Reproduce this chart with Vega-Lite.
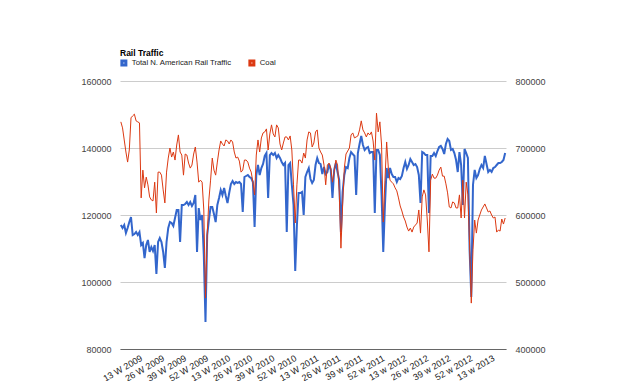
{
 "$schema": "https://vega.github.io/schema/vega-lite/v6.json",
 "autosize": {"type": "none"},
 "width": 386,
 "height": 268,
 "padding": {"left": 120, "top": 81, "right": 118, "bottom": 32},
 "background": "white",
 "title": {"text": "Rail Traffic", "anchor": "start", "frame": "group", "fontSize": 8.5, "font": "Liberation Sans", "fontWeight": "bold", "color": "#000000", "offset": 2},
 "config": {"view": {"stroke": null}, "font": "Liberation Sans"},
 "data": {"values": [
{"week":"1 W 2009","total":585100,"coal":147800},{"week":"2 W 2009","total":580600,"coal":146000},{"week":"3 W 2009","total":585100,"coal":142400},{"week":"4 W 2009","total":573100,"coal":138800},{"week":"5 W 2009","total":580600,"coal":135800},{"week":"6 W 2009","total":589500,"coal":139400},{"week":"7 W 2009","total":597000,"coal":149000},{"week":"8 W 2009","total":570100,"coal":149600},{"week":"9 W 2009","total":571600,"coal":150100},{"week":"10 W 2009","total":574600,"coal":148100},{"week":"11 W 2009","total":570100,"coal":147800},{"week":"12 W 2009","total":574600,"coal":147500},{"week":"13 W 2009","total":555200,"coal":125100},{"week":"14 W 2009","total":558200,"coal":133400},{"week":"15 W 2009","total":535800,"coal":128100},{"week":"16 W 2009","total":555200,"coal":131300},{"week":"17 W 2009","total":562700,"coal":129000},{"week":"18 W 2009","total":544800,"coal":125400},{"week":"19 W 2009","total":552200,"coal":124500},{"week":"20 W 2009","total":546300,"coal":124200},{"week":"21 W 2009","total":555200,"coal":129800},{"week":"22 W 2009","total":511900,"coal":120600},{"week":"23 W 2009","total":559700,"coal":132800},{"week":"24 W 2009","total":565700,"coal":132800},{"week":"25 W 2009","total":559700,"coal":131900},{"week":"26 W 2009","total":544800,"coal":127500},{"week":"27 W 2009","total":520900,"coal":123600},{"week":"28 W 2009","total":559700,"coal":132800},{"week":"29 W 2009","total":580600,"coal":137000},{"week":"30 W 2009","total":589500,"coal":140000},{"week":"31 W 2009","total":588100,"coal":137300},{"week":"32 W 2009","total":583600,"coal":138800},{"week":"33 W 2009","total":595500,"coal":136400},{"week":"34 W 2009","total":607500,"coal":140900},{"week":"35 W 2009","total":607500,"coal":143900},{"week":"36 W 2009","total":559700,"coal":138800},{"week":"37 W 2009","total":614900,"coal":137900},{"week":"38 W 2009","total":614900,"coal":131900},{"week":"39 W 2009","total":616400,"coal":138200},{"week":"40 W 2009","total":619400,"coal":137900},{"week":"41 W 2009","total":614900,"coal":135500},{"week":"42 W 2009","total":619400,"coal":134000},{"week":"43 W 2009","total":613400,"coal":134900},{"week":"44 W 2009","total":617900,"coal":138200},{"week":"45 W 2009","total":629800,"coal":140300},{"week":"46 W 2009","total":544800,"coal":135800},{"week":"47 W 2009","total":610400,"coal":129800},{"week":"48 W 2009","total":592500,"coal":130400},{"week":"49 W 2009","total":600000,"coal":129800},{"week":"50 W 2009","total":540300,"coal":121500},{"week":"51 W 2009","total":440300,"coal":95200},{"week":"52 W 2009","total":570100,"coal":114000},
{"week":"1 W 2010","total":592500,"coal":124500},{"week":"2 W 2010","total":611900,"coal":130400},{"week":"3 W 2010","total":611900,"coal":137000},{"week":"4 W 2010","total":601500,"coal":133400},{"week":"5 W 2010","total":589500,"coal":131900},{"week":"6 W 2010","total":614900,"coal":135800},{"week":"7 W 2010","total":625400,"coal":139400},{"week":"8 W 2010","total":637300,"coal":142100},{"week":"9 W 2010","total":629800,"coal":141200},{"week":"10 W 2010","total":640300,"coal":140600},{"week":"11 W 2010","total":628400,"coal":142400},{"week":"12 W 2010","total":617900,"coal":142100},{"week":"13 W 2010","total":632800,"coal":141200},{"week":"14 W 2010","total":646300,"coal":142400},{"week":"15 W 2010","total":650700,"coal":141800},{"week":"16 W 2010","total":646300,"coal":138800},{"week":"17 W 2010","total":649200,"coal":137000},{"week":"18 W 2010","total":647800,"coal":137300},{"week":"19 W 2010","total":649200,"coal":136100},{"week":"20 W 2010","total":646300,"coal":132800},{"week":"21 W 2010","total":604500,"coal":133400},{"week":"22 W 2010","total":656700,"coal":136400},{"week":"23 W 2010","total":658200,"coal":136400},{"week":"24 W 2010","total":659700,"coal":135800},{"week":"25 W 2010","total":656700,"coal":134000},{"week":"26 W 2010","total":655200,"coal":132800},{"week":"27 W 2010","total":649200,"coal":129800},{"week":"28 W 2010","total":582100,"coal":126000},{"week":"29 W 2010","total":659700,"coal":137900},{"week":"30 W 2010","total":674600,"coal":142400},{"week":"31 W 2010","total":659700,"coal":138800},{"week":"32 W 2010","total":670100,"coal":143000},{"week":"33 W 2010","total":676100,"coal":144500},{"week":"34 W 2010","total":688100,"coal":144800},{"week":"35 W 2010","total":692500,"coal":145700},{"week":"36 W 2010","total":625400,"coal":139400},{"week":"37 W 2010","total":689500,"coal":144200},{"week":"38 W 2010","total":692500,"coal":146900},{"week":"39 W 2010","total":689500,"coal":144200},{"week":"40 W 2010","total":692500,"coal":143300},{"week":"41 W 2010","total":685100,"coal":146900},{"week":"42 W 2010","total":689500,"coal":146000},{"week":"43 W 2010","total":685100,"coal":141200},{"week":"44 W 2010","total":679100,"coal":139400},{"week":"45 W 2010","total":674600,"coal":141500},{"week":"46 W 2010","total":677600,"coal":143300},{"week":"47 W 2010","total":574600,"coal":143300},{"week":"48 W 2010","total":674600,"coal":142400},{"week":"49 W 2010","total":677600,"coal":143600},{"week":"50 W 2010","total":644800,"coal":139400},{"week":"51 W 2010","total":614900,"coal":129000},{"week":"52 W 2010","total":516400,"coal":117600},
{"week":"1 W 2011","total":585100,"coal":129000},{"week":"2 W 2011","total":632800,"coal":136400},{"week":"3 W 2011","total":632800,"coal":136400},{"week":"4 W 2011","total":634300,"coal":135500},{"week":"5 W 2011","total":600000,"coal":138500},{"week":"6 W 2011","total":656700,"coal":137000},{"week":"7 W 2011","total":664200,"coal":142400},{"week":"8 W 2011","total":670100,"coal":144800},{"week":"9 W 2011","total":653700,"coal":144500},{"week":"10 W 2011","total":647800,"coal":140300},{"week":"11 W 2011","total":652200,"coal":141500},{"week":"12 W 2011","total":674600,"coal":144800},{"week":"13 W 2011","total":685100,"coal":145400},{"week":"14 W 2011","total":677600,"coal":140000},{"week":"15 W 2011","total":676100,"coal":138800},{"week":"16 W 2011","total":661200,"coal":137900},{"week":"17 W 2011","total":671600,"coal":134900},{"week":"18 W 2011","total":661200,"coal":129000},{"week":"19 W 2011","total":664200,"coal":134900},{"week":"20 W 2011","total":676100,"coal":135500},{"week":"21 W 2011","total":667200,"coal":134000},{"week":"22 W 2011","total":625400,"coal":129800},{"week":"23 W 2011","total":667200,"coal":132800},{"week":"24 W 2011","total":677600,"coal":136400},{"week":"25 W 2011","total":664200,"coal":134900},{"week":"26 W 2011","total":652200,"coal":126900},{"week":"27 w 2011","total":574600,"coal":110100},{"week":"28 w 2011","total":634300,"coal":123000},{"week":"29 w 2011","total":659700,"coal":134000},{"week":"30 w 2011","total":671600,"coal":138200},{"week":"31 w 2011","total":670100,"coal":139100},{"week":"32 w 2011","total":685100,"coal":140000},{"week":"33 w 2011","total":694000,"coal":143900},{"week":"34 w 2011","total":691000,"coal":144500},{"week":"35 w 2011","total":688100,"coal":143000},{"week":"36 w 2011","total":629800,"coal":143300},{"week":"37 w 2011","total":692500,"coal":143600},{"week":"38 w 2011","total":706000,"coal":145400},{"week":"39 w 2011","total":717900,"coal":148100},{"week":"40 w 2011","total":704500,"coal":145400},{"week":"41 w 2011","total":697000,"coal":144500},{"week":"42 w 2011","total":700000,"coal":143300},{"week":"43 w 2011","total":701500,"coal":144500},{"week":"44 w 2011","total":692500,"coal":143900},{"week":"45 w 2011","total":694000,"coal":144800},{"week":"46 w 2011","total":694000,"coal":142100},{"week":"47 w 2011","total":603000,"coal":136400},{"week":"48 w 2011","total":697000,"coal":150400},{"week":"49 w 2011","total":697000,"coal":144800},{"week":"50 w 2011","total":689500,"coal":147800},{"week":"51 w 2011","total":629800,"coal":140900},{"week":"52 w 2011","total":544800,"coal":117900},
{"week":"1 w 2012","total":614900,"coal":130400},{"week":"2 w 2012","total":670100,"coal":141800},{"week":"3 w 2012","total":655200,"coal":134000},{"week":"4 w 2012","total":670100,"coal":130400},{"week":"5 w 2012","total":661200,"coal":129800},{"week":"6 w 2012","total":656700,"coal":129300},{"week":"7 w 2012","total":656700,"coal":128100},{"week":"8 w 2012","total":649200,"coal":127200},{"week":"9 w 2012","total":655200,"coal":125100},{"week":"10 w 2012","total":653700,"coal":122700},{"week":"11 w 2012","total":658200,"coal":121200},{"week":"12 w 2012","total":670100,"coal":119400},{"week":"13 w 2012","total":679100,"coal":118200},{"week":"14 w 2012","total":668700,"coal":116400},{"week":"15 w 2012","total":674600,"coal":115200},{"week":"16 w 2012","total":683600,"coal":116100},{"week":"17 w 2012","total":679100,"coal":114900},{"week":"18 w 2012","total":674600,"coal":116400},{"week":"19 w 2012","total":676100,"coal":117000},{"week":"20 w 2012","total":671600,"coal":117600},{"week":"21 w 2012","total":659700,"coal":121500},{"week":"22 w 2012","total":617900,"coal":114600},{"week":"23 w 2012","total":694000,"coal":125400},{"week":"24 w 2012","total":692500,"coal":127500},{"week":"25 w 2012","total":689500,"coal":126000},{"week":"26 w 2012","total":689500,"coal":118500},{"week":"27 w 2012","total":603000,"coal":109000},{"week":"28 w 2012","total":688100,"coal":130400},{"week":"29 w 2012","total":688100,"coal":132200},{"week":"30 w 2012","total":692500,"coal":131000},{"week":"31 w 2012","total":688100,"coal":131000},{"week":"32 w 2012","total":695500,"coal":131900},{"week":"33 w 2012","total":701500,"coal":133400},{"week":"34 w 2012","total":703000,"coal":134300},{"week":"35 w 2012","total":698500,"coal":131600},{"week":"36 w 2012","total":691000,"coal":131600},{"week":"37 w 2012","total":706000,"coal":129300},{"week":"38 w 2012","total":713400,"coal":126600},{"week":"39 w 2012","total":710400,"coal":122400},{"week":"40 w 2012","total":697000,"coal":122100},{"week":"41 w 2012","total":698500,"coal":123900},{"week":"42 w 2012","total":692500,"coal":123600},{"week":"43 w 2012","total":682100,"coal":122100},{"week":"44 w 2012","total":664200,"coal":122100},{"week":"45 w 2012","total":694000,"coal":126000},{"week":"46 w 2012","total":674600,"coal":119100},{"week":"47 w 2012","total":614900,"coal":130400},{"week":"48 w 2012","total":698500,"coal":119100},{"week":"49 w 2012","total":692500,"coal":129800},{"week":"50 w 2012","total":685100,"coal":126000},{"week":"51 w 2012","total":547800,"coal":111000},{"week":"52 w 2012","total":477600,"coal":93700},
{"week":"1 w 2013","total":644800,"coal":109600},{"week":"2 w 2013","total":667200,"coal":118500},{"week":"3 w 2013","total":655200,"coal":114600},{"week":"4 w 2013","total":659700,"coal":118500},{"week":"5 w 2013","total":668700,"coal":120000},{"week":"6 w 2013","total":674600,"coal":121500},{"week":"7 w 2013","total":670100,"coal":122400},{"week":"8 w 2013","total":688100,"coal":123300},{"week":"9 w 2013","total":676100,"coal":122100},{"week":"10 w 2013","total":664200,"coal":120900},{"week":"11 w 2013","total":667200,"coal":121200},{"week":"12 w 2013","total":664200,"coal":120000},{"week":"13 w 2013","total":670100,"coal":119100},{"week":"14 w 2013","total":671600,"coal":119400},{"week":"15 w 2013","total":674600,"coal":114900},{"week":"16 w 2013","total":677600,"coal":115500},{"week":"17 w 2013","total":677600,"coal":115200},{"week":"18 w 2013","total":679100,"coal":118800},{"week":"19 w 2013","total":682100,"coal":117300},{"week":"20 w 2013","total":692500,"coal":119100}
 ]},
 "encoding": {
  "x": {"field": "week", "type": "ordinal", "sort": null, "scale": {"type": "point", "padding": 0.5},
   "axis": {"title": null, "values": ["13 W 2009","26 W 2009","39 W 2009","52 W 2009","13 W 2010","26 W 2010","39 W 2010","52 W 2010","13 W 2011","26 W 2011","39 w 2011","52 w 2011","13 w 2012","26 w 2012","39 w 2012","52 w 2012","13 w 2013"],
    "labelAngle": -30, "labelAlign": "right", "labelBaseline": "middle", "labelPadding": 8, "labelFontSize": 9, "labelFont": "Liberation Sans", "labelColor": "#222222", "ticks": false, "grid": false, "domain": true, "domainColor": "#666666", "domainWidth": 1, "labelOverlap": false, "labelBound": false}}
 },
 "layer": [
  {"mark": {"type": "line", "strokeWidth": 2, "interpolate": "linear"},
   "encoding": {
    "y": {"field": "total", "type": "quantitative", "scale": {"domain": [400000, 800000], "nice": false, "zero": false},
     "axis": {"orient": "right", "title": null, "values": [400000, 500000, 600000, 700000, 800000], "format": "d", "grid": false, "ticks": false, "domain": false, "labelPadding": 9, "labelFontSize": 9, "labelFont": "Liberation Sans", "labelColor": "#444444"}},
    "color": {"datum": "Total N. American Rail Traffic", "type": "nominal",
     "scale": {"domain": ["Total N. American Rail Traffic", "Coal"], "range": ["#3366cc", "#dc3912"]},
     "legend": {"orient": "none", "legendX": 0, "legendY": -22, "direction": "horizontal", "title": null, "symbolType": "square", "symbolSize": 16, "symbolStrokeWidth": 3, "symbolOpacity": 1, "labelFontSize": 7.75, "labelFont": "Liberation Sans", "labelColor": "#222222", "labelOffset": 4, "columnPadding": 11}}
   }},
  {"mark": {"type": "line", "strokeWidth": 1, "interpolate": "linear"},
   "encoding": {
    "y": {"field": "coal", "type": "quantitative", "scale": {"domain": [80000, 160000], "nice": false, "zero": false},
     "axis": {"orient": "left", "title": null, "values": [80000, 100000, 120000, 140000, 160000], "format": "d", "grid": true, "gridColor": "#cccccc", "gridWidth": 1, "ticks": false, "domain": false, "labelPadding": 9, "labelFontSize": 9, "labelFont": "Liberation Sans", "labelColor": "#444444"}},
    "color": {"datum": "Coal", "type": "nominal"}
   }}
 ],
 "resolve": {"scale": {"y": "independent"}}
}
